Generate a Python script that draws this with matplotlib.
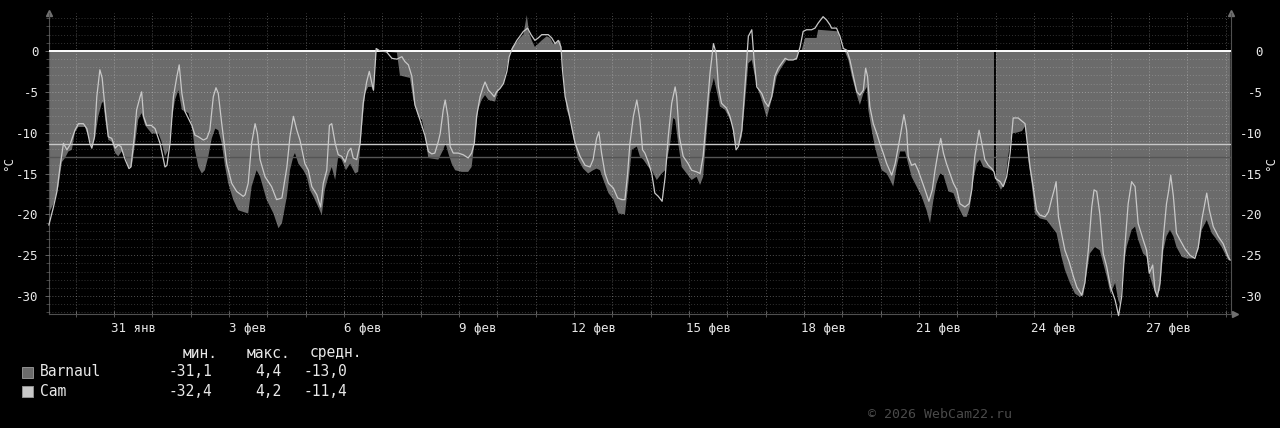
import matplotlib
matplotlib.use("Agg")
import matplotlib.pyplot as plt
from matplotlib.patches import Rectangle
import numpy as np

# time in days since 29 Jan 00:00, temperature in °C
cam_t = [0.30, 0.42, 0.51, 0.59, 0.68, 0.77, 0.85, 0.98, 1.07, 1.20, 1.29, 1.37, 1.42, 1.49, 1.55, 1.63, 1.69, 1.77, 1.85, 1.94,
         2.03, 2.11, 2.18, 2.29, 2.39, 2.44, 2.53, 2.59, 2.68, 2.72, 2.77, 2.85, 2.97, 3.07, 3.20, 3.33, 3.38, 3.46, 3.55, 3.64,
         3.70, 3.77, 3.85, 4.03, 4.11, 4.20, 4.33, 4.42, 4.50, 4.59, 4.66, 4.72, 4.81, 4.94, 5.07, 5.20, 5.37, 5.42, 5.50, 5.59,
         5.68, 5.74, 5.81, 5.94, 6.11, 6.24, 6.38, 6.51, 6.59, 6.68, 6.77, 6.85, 6.98, 7.07, 7.16, 7.29, 7.39, 7.46, 7.55, 7.62,
         7.68, 7.77, 7.85, 7.94, 8.03, 8.11, 8.18, 8.24, 8.33, 8.42, 8.50, 8.59, 8.66, 8.72, 8.77, 8.84, 8.94, 9.11, 9.25, 9.38,
         9.51, 9.59, 9.68, 9.77, 9.85, 9.98, 10.11, 10.20, 10.29, 10.37, 10.46, 10.51, 10.59, 10.64, 10.71, 10.77, 10.85, 10.98, 11.11, 11.24,
         11.33, 11.40, 11.46, 11.55, 11.63, 11.68, 11.77, 11.85, 11.92, 11.98, 12.07, 12.16, 12.25, 12.31, 12.39, 12.51, 12.59, 12.68, 12.74, 12.79,
         12.88, 12.98, 13.07, 13.16, 13.24, 13.33, 13.42, 13.51, 13.59, 13.66, 13.70, 13.77, 13.85, 13.94, 14.03, 14.16, 14.29, 14.42, 14.50, 14.59,
         14.65, 14.72, 14.81, 14.90, 15.03, 15.14, 15.25, 15.33, 15.40, 15.46, 15.55, 15.64, 15.72, 15.79, 15.85, 15.94, 16.03, 16.11, 16.20, 16.30,
         16.38, 16.46, 16.55, 16.64, 16.68, 16.75, 16.85, 16.98, 17.07, 17.20, 17.29, 17.37, 17.46, 17.55, 17.64, 17.71, 17.77, 17.85, 17.98, 18.07,
         18.16, 18.23, 18.29, 18.38, 18.46, 18.55, 18.64, 18.70, 18.77, 18.90, 18.98, 19.07, 19.16, 19.24, 19.33, 19.42, 19.51, 19.59, 19.72, 19.81,
         19.90, 19.98, 20.07, 20.20, 20.29, 20.37, 20.50, 20.59, 20.68, 20.72, 20.85, 20.94, 21.03, 21.12, 21.20, 21.29, 21.38, 21.46, 21.55, 21.61,
         21.66, 21.72, 21.81, 21.90, 21.98, 22.07, 22.16, 22.29, 22.38, 22.51, 22.61, 22.68, 22.72, 22.81, 22.90, 22.98, 23.07, 23.16, 23.26, 23.35,
         23.42, 23.51, 23.57, 23.64, 23.72, 23.81, 23.90, 23.99, 24.07, 24.20, 24.31, 24.38, 24.46, 24.57, 24.64, 24.72, 24.81, 24.90, 24.96, 25.00,
         25.12, 25.20, 25.29, 25.38, 25.46, 25.59, 25.77, 25.83, 25.90, 25.98, 26.07, 26.16, 26.29, 26.38, 26.46, 26.53, 26.58, 26.64, 26.72, 26.81,
         26.92, 27.03, 27.12, 27.25, 27.33, 27.42, 27.51, 27.57, 27.64, 27.72, 27.81, 27.90, 28.00, 28.12, 28.21, 28.29, 28.38, 28.46, 28.55, 28.64,
         28.72, 28.85, 28.94, 29.01, 29.10, 29.16, 29.22, 29.29, 29.38, 29.46, 29.52, 29.57, 29.64, 29.72, 29.81, 29.94, 30.07, 30.20, 30.29, 30.38,
         30.46, 30.51, 30.58, 30.68, 30.81, 30.94, 31.07, 31.12]
cam_v = [-21.3, -19.1, -17.2, -14.2, -11.3, -12.1, -11.5, -9.7, -8.9, -8.9, -9.5, -11.3, -11.9, -10.5, -5.6, -2.3, -3.3, -7.2, -10.5, -10.7,
         -11.9, -11.5, -11.7, -13.3, -14.4, -14.2, -10.5, -7.2, -5.6, -5.0, -8.0, -9.1, -9.1, -9.5, -11.3, -14.2, -14.0, -11.3, -5.6, -3.1,
         -1.7, -5.2, -7.4, -9.1, -10.3, -10.5, -10.9, -10.7, -9.7, -5.6, -4.5, -5.2, -8.9, -13.8, -16.2, -17.2, -17.8, -17.6, -16.2, -11.3,
         -8.9, -10.1, -13.3, -15.4, -16.6, -18.2, -18.0, -14.2, -10.5, -8.0, -9.7, -10.9, -13.8, -14.6, -16.6, -17.6, -19.1, -16.2, -14.6, -9.1,
         -8.9, -11.3, -12.7, -12.9, -13.6, -12.3, -11.9, -13.1, -13.3, -11.3, -6.4, -3.8, -2.5, -3.8, -4.8, 0.3, 0.0, -0.1, -0.9, -1.0,
         -0.7, -1.3, -1.7, -3.1, -6.6, -8.4, -10.3, -12.3, -12.6, -12.5, -11.1, -10.1, -7.2, -6.0, -8.0, -11.7, -12.5, -12.5, -12.7, -13.1,
         -12.5, -11.3, -8.0, -5.6, -4.4, -3.8, -4.8, -5.2, -5.6, -5.0, -4.6, -4.0, -2.5, -0.7, 0.3, 1.3, 1.8, 2.4, 2.6, 2.8,
         2.0, 1.3, 1.6, 2.0, 2.0, 2.0, 1.6, 0.9, 1.3, 0.5, -2.3, -5.6, -7.2, -9.3, -11.3, -12.9, -14.0, -14.2, -13.3, -10.7,
         -9.9, -12.5, -15.0, -16.2, -16.8, -18.0, -18.2, -18.2, -15.0, -11.3, -8.0, -6.0, -8.4, -12.1, -12.5, -13.6, -15.0, -17.4, -17.8, -18.4,
         -15.4, -10.5, -6.4, -4.4, -5.6, -10.5, -12.9, -13.8, -14.6, -14.8, -15.0, -12.9, -8.0, -2.7, 0.9, -0.3, -4.4, -6.4, -7.0, -8.0,
         -9.7, -12.1, -11.7, -9.7, -4.4, 1.8, 2.6, -1.1, -4.4, -5.2, -6.2, -6.8, -5.6, -3.1, -2.1, -1.5, -0.9, -1.1, -1.1, -0.9,
         0.5, 2.4, 2.6, 2.6, 2.8, 3.4, 4.2, 3.8, 3.2, 2.8, 2.8, 1.8, 0.3, 0.1, -1.1, -3.1, -5.0, -5.4, -4.8, -2.1,
         -3.1, -6.8, -8.9, -10.1, -11.3, -12.5, -13.8, -15.2, -13.8, -10.5, -7.8, -9.7, -12.9, -14.0, -13.8, -14.6, -15.8, -17.0, -18.4, -17.0,
         -14.6, -12.1, -10.7, -12.5, -13.8, -15.0, -16.2, -17.0, -18.7, -19.1, -18.7, -17.0, -12.9, -9.7, -11.3, -13.3, -14.0, -14.4, -14.8, -15.6,
         -16.0, -16.6, -15.4, -12.5, -8.2, -8.2, -8.9, -11.3, -14.2, -16.6, -19.5, -20.1, -20.3, -19.7, -18.2, -17.0, -16.0, -20.3, -22.3, -24.4,
         -25.8, -27.6, -28.9, -29.9, -28.4, -24.4, -19.1, -17.0, -17.2, -19.9, -24.8, -26.4, -28.9, -30.5, -32.4, -30.1, -23.6, -18.7, -16.0, -16.6,
         -21.1, -23.1, -24.4, -27.2, -26.2, -29.3, -30.1, -28.4, -22.7, -18.7, -17.0, -15.2, -17.8, -22.3, -23.1, -24.2, -25.0, -25.4, -24.0, -20.7,
         -18.7, -17.4, -19.5, -21.5, -22.7, -23.6, -25.2, -25.6]

barnaul_t = [0.30, 0.42, 0.55, 0.64, 0.72, 0.81, 0.90, 0.98, 1.07, 1.24, 1.33, 1.42, 1.50, 1.59, 1.68, 1.72, 1.77, 1.85, 1.94, 2.03,
             2.11, 2.20, 2.29, 2.37, 2.46, 2.55, 2.63, 2.72, 2.81, 2.98, 3.16, 3.24, 3.33, 3.42, 3.51, 3.59, 3.68, 3.77, 3.85, 3.94,
             4.03, 4.11, 4.20, 4.29, 4.37, 4.46, 4.55, 4.64, 4.72, 4.81, 4.90, 4.98, 5.11, 5.24, 5.50, 5.59, 5.72, 5.81, 5.98, 6.16,
             6.29, 6.38, 6.51, 6.59, 6.68, 6.72, 6.81, 6.94, 7.03, 7.11, 7.20, 7.33, 7.42, 7.50, 7.59, 7.68, 7.77, 7.85, 7.94, 8.05,
             8.16, 8.29, 8.37, 8.46, 8.55, 8.63, 8.72, 8.77, 8.84, 9.38, 9.46, 9.72, 9.81, 9.94, 10.03, 10.11, 10.20, 10.46, 10.59, 10.65,
             10.72, 10.81, 10.90, 11.07, 11.24, 11.33, 11.42, 11.50, 11.59, 11.68, 11.77, 11.94, 12.03, 12.16, 12.25, 12.33, 12.39, 12.51, 12.59, 12.68,
             12.77, 12.83, 12.90, 12.98, 13.07, 13.16, 13.29, 13.38, 13.46, 13.55, 13.64, 13.68, 13.75, 13.81, 13.90, 13.98, 14.11, 14.24, 14.37, 14.50,
             14.59, 14.68, 14.77, 14.90, 15.03, 15.16, 15.33, 15.42, 15.51, 15.64, 15.72, 15.81, 15.94, 16.03, 16.16, 16.29, 16.38, 16.51, 16.59, 16.64,
             16.72, 16.81, 16.94, 17.07, 17.20, 17.29, 17.37, 17.46, 17.55, 17.65, 17.72, 17.81, 17.94, 18.03, 18.12, 18.20, 18.29, 18.38, 18.46, 18.55,
             18.64, 18.72, 18.81, 18.90, 19.03, 19.11, 19.20, 19.29, 19.38, 19.46, 19.55, 19.81, 19.85, 19.94, 20.03, 20.33, 20.37, 20.90, 20.99, 21.07,
             21.16, 21.25, 21.38, 21.46, 21.55, 21.64, 21.68, 21.77, 21.85, 21.94, 22.03, 22.16, 22.25, 22.33, 22.42, 22.51, 22.64, 22.72, 22.81, 22.94,
             23.07, 23.20, 23.29, 23.38, 23.46, 23.55, 23.64, 23.77, 23.90, 24.03, 24.16, 24.25, 24.33, 24.42, 24.51, 24.59, 24.68, 24.81, 24.96, 24.98,
             25.01, 25.14, 25.25, 25.33, 25.42, 25.55, 25.69, 25.77, 25.81, 25.85, 25.94, 26.03, 26.16, 26.33, 26.46, 26.59, 26.72, 26.81, 26.94, 27.07,
             27.20, 27.29, 27.38, 27.46, 27.59, 27.72, 27.81, 27.90, 28.00, 28.12, 28.20, 28.25, 28.33, 28.42, 28.55, 28.64, 28.72, 28.85, 28.94, 29.03,
             29.11, 29.20, 29.29, 29.38, 29.46, 29.55, 29.64, 29.72, 29.86, 29.99, 30.16, 30.29, 30.38, 30.51, 30.64, 30.77, 30.90, 31.07, 31.13]
barnaul_v = [-19.9, -18.7, -16.6, -13.6, -13.1, -12.3, -12.1, -9.9, -9.3, -9.3, -10.5, -11.7, -10.7, -8.0, -6.4, -6.2, -8.4, -10.9, -11.1, -12.5,
             -12.9, -12.3, -12.9, -14.2, -14.2, -11.3, -8.4, -7.6, -9.1, -10.1, -10.1, -11.1, -12.9, -12.1, -8.4, -6.0, -4.8, -7.2, -7.4, -7.6,
             -9.1, -12.1, -14.2, -15.0, -14.6, -12.9, -10.7, -9.5, -9.7, -11.3, -14.2, -16.2, -18.2, -19.5, -19.9, -16.6, -14.6, -15.4, -18.2, -19.9,
             -21.7, -21.1, -17.8, -14.6, -12.9, -12.5, -13.8, -14.6, -15.4, -17.0, -17.8, -19.1, -20.1, -17.0, -15.4, -14.2, -15.8, -12.9, -13.3, -14.6,
             -13.8, -15.0, -14.8, -9.7, -5.2, -4.4, -4.4, -5.0, 0.0, -0.2, -3.0, -3.3, -6.0, -8.0, -8.4, -10.1, -13.1, -13.3, -12.1, -11.3,
             -12.5, -13.8, -14.6, -14.8, -14.8, -14.2, -10.5, -7.2, -6.0, -5.4, -6.0, -6.2, -4.8, -4.0, -1.9, -0.3, 0.5, 1.1, 1.6, 2.0,
             4.4, 2.2, 1.3, 0.5, 0.9, 1.3, 1.8, 1.6, 0.9, 1.1, 1.3, -0.1, -4.4, -7.2, -8.4, -10.5, -13.3, -14.4, -15.0, -14.6,
             -14.4, -14.6, -15.8, -17.4, -18.2, -19.9, -20.0, -16.2, -12.1, -11.7, -12.9, -13.3, -14.2, -14.6, -15.8, -15.0, -14.6, -11.3, -8.2, -8.4,
             -11.3, -14.2, -15.0, -15.8, -15.4, -16.4, -15.4, -10.1, -5.2, -3.3, -4.8, -6.8, -7.2, -8.0, -8.9, -11.3, -11.7, -10.5, -6.4, -1.5,
             -1.1, -3.1, -4.8, -6.0, -8.2, -6.8, -5.2, -3.1, -2.3, -1.7, -1.1, -1.1, -0.1, 0.1, 1.6, 1.6, 2.6, 2.4, 0.0, -0.1,
             -1.1, -3.1, -5.4, -6.6, -5.2, -4.4, -7.2, -9.7, -11.7, -13.3, -14.6, -15.0, -15.8, -16.6, -14.2, -12.3, -12.3, -13.8, -15.4, -16.6,
             -17.8, -19.5, -21.1, -18.2, -16.2, -15.0, -15.2, -17.2, -17.4, -19.1, -20.3, -20.3, -19.1, -15.8, -13.8, -13.3, -14.2, -14.4, -14.8, np.nan,
             -15.8, -17.0, -16.2, -12.9, -10.1, -10.0, -9.8, -9.2, -10.5, -13.3, -16.2, -19.9, -20.5, -20.7, -21.5, -22.3, -25.2, -26.8, -28.4, -29.7,
             -30.1, -29.9, -27.2, -24.8, -24.0, -24.4, -26.0, -27.6, -29.7, -28.4, -30.5, -31.1, -26.8, -24.0, -21.9, -21.5, -23.1, -24.8, -25.2, -27.6,
             -28.9, -29.9, -29.3, -24.4, -22.7, -21.9, -22.7, -24.0, -25.2, -25.4, -25.4, -24.4, -21.9, -20.7, -22.3, -23.1, -24.0, -25.6, -25.6]

series = ["Barnaul", "Cam"]
stat_min = ["-31,1", "-32,4"]
stat_max = ["4,4", "4,2"]
stat_avg = ["-13,0", "-11,4"]
avg_values = [-13.0, -11.4]
day_labels = ["31 янв", "3 фев", "6 фев", "9 фев", "12 фев", "15 фев", "18 фев", "21 фев", "24 фев", "27 фев"]
label_days = [2.5, 5.5, 8.5, 11.5, 14.5, 17.5, 20.5, 23.5, 26.5, 29.5]

area_col = "#6b6b6b"
cam_col = "#c8c8c8"
txt_col = "#e8e8e8"
mono = "DejaVu Sans Mono"

fig = plt.figure(figsize=(12.8, 4.28), dpi=100, facecolor="black")
ax = fig.add_axes([48.5 / 1280, 1 - 314 / 428, 1182 / 1280, 301 / 428])
ax.set_facecolor("black")
ax.set_xlim(0.29, 31.13)
ax.set_ylim(-32.2, 4.65)

ax.fill_between(barnaul_t, 0, barnaul_v, color=area_col, linewidth=0, zorder=2)

# grid on top of the area, like rrdtool
for d in np.arange(1, 32):
    ax.axvline(d, color="white", alpha=0.3, lw=0.7, ls=(0, (1, 2)), zorder=3)
for y in np.arange(-32, 5):
    a = 0.32 if y % 5 == 0 else 0.2
    ax.axhline(y, color="white", alpha=a, lw=0.7, ls=(0, (1, 2)), zorder=3)

ax.axhline(0, color="white", lw=1.4, zorder=4)
ax.axhline(avg_values[1], color=cam_col, lw=1.0, zorder=4)
ax.axhline(avg_values[0], color="#555555", lw=1.0, zorder=4)
ax.plot(cam_t, cam_v, color=cam_col, lw=0.9, zorder=5, clip_on=False)

ax.spines["top"].set_visible(False)
for s in ["left", "right", "bottom"]:
    ax.spines[s].set_color("#505050")
    ax.spines[s].set_linewidth(0.8)

ax.set_yticks(np.arange(-30, 1, 5))
ax.set_yticklabels([str(v) for v in np.arange(-30, 1, 5)])
ax.set_yticks(np.arange(-32, 5), minor=True)
ax.tick_params(axis="y", which="major", direction="out", length=3, width=0.7, color="#606060",
               labelcolor=txt_col, labelsize=9, pad=4, right=True)
ax.tick_params(axis="y", which="minor", direction="out", length=2, width=0.6, color="#505050", right=True)
for lbl in ax.get_yticklabels():
    lbl.set_fontfamily(mono)

ax2 = ax.twinx()
ax2.set_ylim(ax.get_ylim())
ax2.set_yticks(np.arange(-30, 1, 5))
ax2.set_yticklabels([str(v) for v in np.arange(-30, 1, 5)])
ax2.tick_params(axis="y", length=0, labelcolor=txt_col, labelsize=9, pad=23)
for lbl in ax2.get_yticklabels():
    lbl.set_fontfamily(mono)
    lbl.set_horizontalalignment("right")
for s in ax2.spines.values():
    s.set_visible(False)
ax2.set_ylabel("°C", color=txt_col, fontsize=9, family=mono, rotation=90, labelpad=1)

ax.set_ylabel("°C", color=txt_col, fontsize=9, family=mono, labelpad=1)

ax.set_xticks(label_days)
ax.set_xticklabels(day_labels, family=mono)
ax.set_xticks(np.arange(1, 32), minor=True)
ax.tick_params(axis="x", which="major", length=0, labelcolor=txt_col, labelsize=9, pad=6)
ax.tick_params(axis="x", which="minor", direction="inout", length=4, width=0.6, color="#606060")

# axis arrows
ax.plot([0], [1.0], marker="^", ms=4, color="#707070", transform=ax.transAxes, clip_on=False)
ax.plot([1], [1.0], marker="^", ms=4, color="#707070", transform=ax.transAxes, clip_on=False)
ax.plot([1.004], [0], marker=">", ms=4, color="#707070", transform=ax.transAxes, clip_on=False)

# legend
W, H = 1280.0, 428.0
fs = 10.5
for txt, x in zip(["мин.", "макс.", "средн."], [183, 247, 310]):
    fig.text(x / W, 1 - 353 / H, txt, color=txt_col, family=mono, fontsize=fs, va="center")
sq_cols = [area_col, cam_col]
for i, name in enumerate(series):
    yc = 372 + 19 * i
    fig.patches.append(Rectangle((22 / W, 1 - (yc + 5.5) / H), 11 / W, 11 / H, transform=fig.transFigure,
                                 facecolor=sq_cols[i], edgecolor="#909090", lw=0.7))
    fig.text(40 / W, 1 - yc / H, name, color=txt_col, family=mono, fontsize=fs, va="center")
    fig.text(212 / W, 1 - yc / H, stat_min[i], color=txt_col, family=mono, fontsize=fs, va="center", ha="right")
    fig.text(282 / W, 1 - yc / H, stat_max[i], color=txt_col, family=mono, fontsize=fs, va="center", ha="right")
    fig.text(347 / W, 1 - yc / H, stat_avg[i], color=txt_col, family=mono, fontsize=fs, va="center", ha="right")

fig.text(1012 / W, 1 - 414 / H, "© 2026 WebCam22.ru", color="#4a4a4a", family=mono, fontsize=9.5,
         va="center", ha="right")

fig.savefig("out.png", dpi=100, facecolor="black")
